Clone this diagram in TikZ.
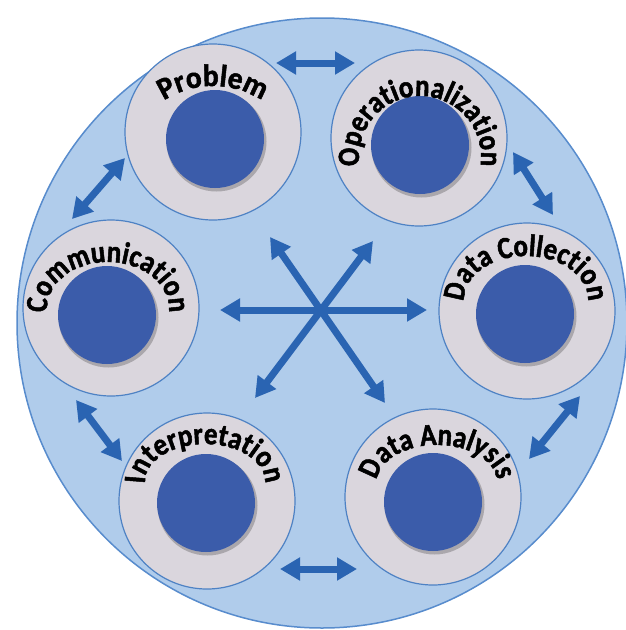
\documentclass[tikz,border=0pt]{standalone}
\usepackage{fontspec}
\setmainfont{Carlito}
\newfontfamily\lblfam{Carlito}[BoldFeatures={FakeStretch=0.87,FakeBold=1.6}]
\newfontfamily\probfam{Carlito}[BoldFeatures={FakeStretch=0.95,FakeBold=1.6}]
\usetikzlibrary{arrows.meta,decorations.text}
\definecolor{bigfill}{RGB}{176,204,235}
\definecolor{bigline}{RGB}{88,140,205}
\definecolor{ringfill}{RGB}{218,214,221}
\definecolor{ringline}{RGB}{78,130,196}
\definecolor{corefill}{RGB}{59,92,170}
\definecolor{arrowblue}{RGB}{42,100,178}
\newcommand\lblfont{\lblfam\fontsize{31}{34}\selectfont\bfseries}
\newcommand\problfont{\probfam\fontsize{31}{34}\selectfont\bfseries}
\newcommand\arclabel[5]{%
  \path[decorate,decoration={text along path,text align=center,text color=black,
    text={|\lblfont|#5}}]
    (#1,#2) ++(200:#3 and #4) arc[start angle=200,end angle=-20,x radius=#3,y radius=#4];}
\tikzset{
  ring/.style={circle,draw=ringline,line width=1.2pt,fill=ringfill,minimum size=176pt,inner sep=0pt},
  core/.style={circle,fill=corefill,minimum size=98pt,inner sep=0pt},
  coreshadow/.style={circle,fill=black,opacity=0.22,minimum size=100pt,inner sep=0pt},
  dbl/.style={arrowblue,line width=7pt,{Triangle[length=20pt,width=22pt]}-{Triangle[length=20pt,width=22pt]}}
}
\begin{document}
\begin{tikzpicture}[x=1pt,y=1pt]
\useasboundingbox (0,0) rectangle (625,-630);
\fill[white] (0,0) rectangle (625,-630);
% big circle
\node[circle,draw=bigline,line width=1.5pt,fill=bigfill,minimum size=610pt,inner sep=0pt] (big) at (322,-323) {};
% rings
\node[ring] (prob) at (213,-132) {};
\node[ring] (oper) at (419,-138) {};
\node[ring] (dcol) at (527,-311) {};
\node[ring] (comm) at (111,-308) {};
\node[ring] (intp) at (207,-501) {};
\node[ring] (dana) at (433,-497) {};
% cores with shadows
\foreach \n/\x/\y in {probc/215/139, operc/420/145, dcolc/525/314, commc/107/315, intpc/206/503, danac/433/502}{
  \node[coreshadow] at (\x+1.5,-\y-2.5) {};
  \node[core] (\n) at (\x,-\y) {};
}
% labels
\path[decorate,decoration={text along path,text align=center,text color=black,
    text={|\problfont|Problem}}]
    (213,-176) ++(150:90) arc[start angle=150,end angle=30,radius=90];
\arclabel{420}{-157}{61}{61}{Operationalization}
\arclabel{526}{-300}{62}{44}{Data Collection}
\arclabel{108}{-309}{61}{47}{Communication}
\arclabel{205}{-482}{60}{38}{Interpretation}
\arclabel{437}{-482}{60}{37}{Data Analysis}
% ring arrows
\coordinate (po1) at (276,-63);  \coordinate (po2) at (355,-63);
\coordinate (od1) at (513,-152); \coordinate (od2) at (553,-215);
\coordinate (pc1) at (125,-158); \coordinate (pc2) at (72,-219);
\coordinate (ci1) at (76,-400);  \coordinate (ci2) at (122,-461);
\coordinate (ia1) at (280,-569); \coordinate (ia2) at (357,-569);
\coordinate (ad1) at (529,-459); \coordinate (ad2) at (580,-396);
\draw[dbl] (po1) -- (po2);
\draw[dbl] (od1) -- (od2);
\draw[dbl] (pc1) -- (pc2);
\draw[dbl] (ci1) -- (ci2);
\draw[dbl] (ia1) -- (ia2);
\draw[dbl] (ad1) -- (ad2);
% central star
\coordinate (hub) at (321,-310);
\coordinate (hL) at (220,-310); \coordinate (hR) at (427,-310);
\coordinate (dUL) at (270,-237); \coordinate (dDR) at (385,-403);
\coordinate (dUR) at (373,-241); \coordinate (dDL) at (255,-398);
\draw[dbl] (hL) -- (hR);
\draw[dbl] (dUL) -- (dDR);
\draw[dbl] (dUR) -- (dDL);
\end{tikzpicture}
\end{document}
